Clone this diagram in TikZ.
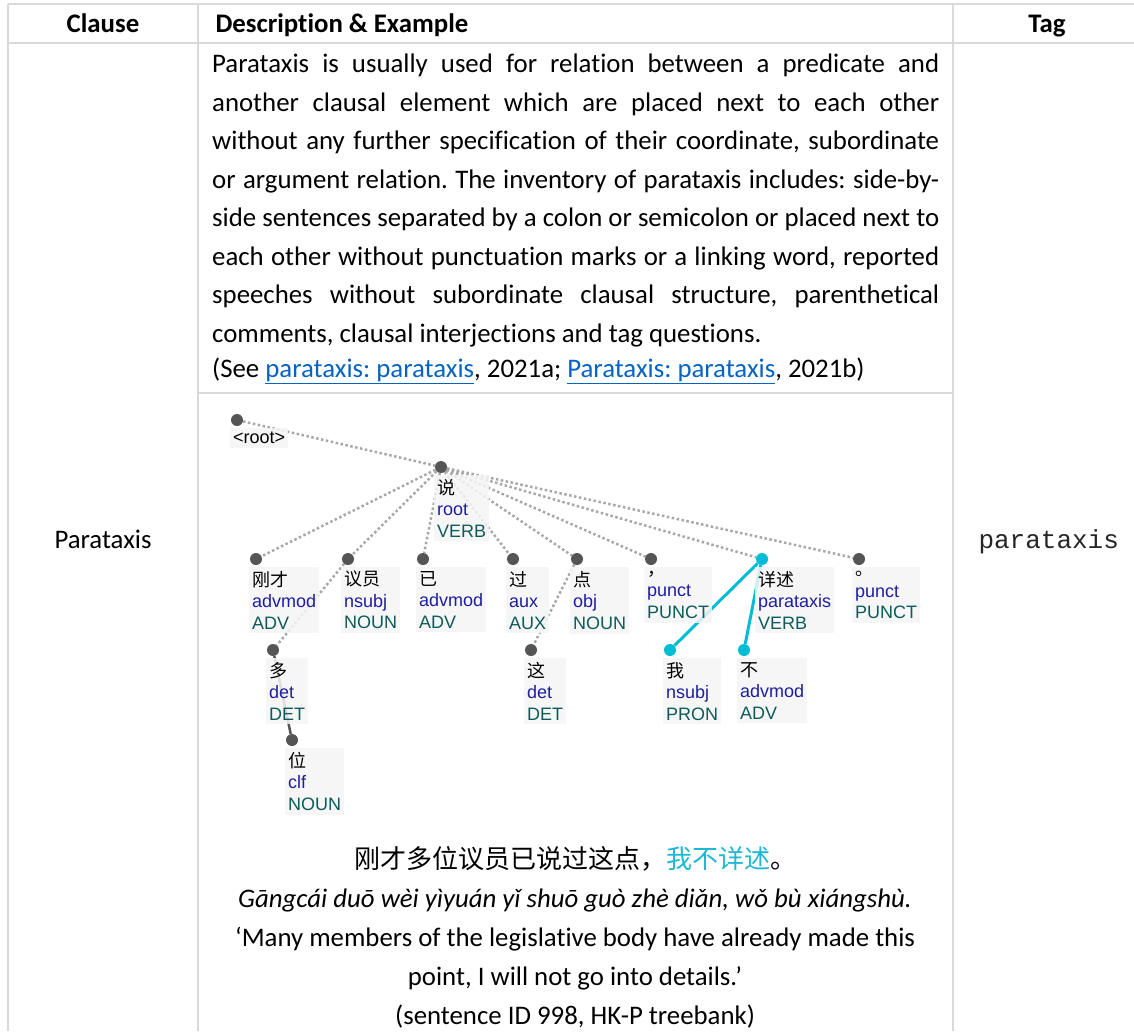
\documentclass[tikz,border=0pt]{standalone}
\usepackage{fontspec}
\setmainfont{Carlito}[Ligatures=NoCommon]
\newfontfamily\arialf{Liberation Sans}
\newfontfamily\courf{Liberation Mono}
\newfontfamily\cjk{Noto Sans CJK SC}
\usetikzlibrary{backgrounds}
\definecolor{rulegray}{HTML}{D9D9D9}
\definecolor{dotgray}{HTML}{555555}
\definecolor{edgegray}{HTML}{A8A8A8}
\definecolor{udcyan}{HTML}{00BCD4}
\definecolor{cyantext}{HTML}{1CB8D4}
\definecolor{reltext}{HTML}{1E1EA0}
\definecolor{postext}{HTML}{0F5A5A}
\definecolor{linkblue}{HTML}{0563C1}
\definecolor{boxfill}{HTML}{F5F5F5}
\frenchspacing

\begin{document}
\begin{tikzpicture}[x=1pt,y=-1pt,
  every node/.style={font=\fontsize{26.8}{38.5}\selectfont},
  head/.style={font=\bfseries\fontsize{26.8}{30}\selectfont},
  rule/.style={rulegray, line width=2.5pt},
  tok/.style={circle, fill=dotgray, inner sep=0pt, minimum size=12pt},
  ctok/.style={tok, fill=udcyan},
  lbl/.style={fill=boxfill, fill opacity=.85, text opacity=1, anchor=north west,
    inner xsep=3pt, inner ysep=4pt, align=left, font=\arialf\fontsize{18}{21.5}\selectfont},
  dep/.style={edgegray, line width=2.5pt, dash pattern=on 2.5pt off 2.5pt},
  sdep/.style={dotgray, line width=2.5pt},
  cdep/.style={udcyan, line width=3pt}]
\useasboundingbox (0,0) rectangle (1134,1031);
\draw[rule] (8,4) -- (1134,4) (8,43) -- (1134,43) (198,393) -- (953,393);
\foreach \x in {8,198,953} \draw[rule] (\x,4) -- (\x,1031);

\node[head, anchor=base] (h-clause) at (103,32) {Clause};
\node[head, anchor=base west] (h-desc) at (212,32) {Description \& Example};
\node[head, anchor=base] (h-tag) at (1047,32) {Tag};

\node[anchor=base] (clause) at (103,548) {Parataxis};
\node[font=\courf\fontsize{26}{30}\selectfont, text=black!85, anchor=base west] (tag) at (975,548) {parataxis};

\node[anchor=north west, inner sep=0pt, text width=727pt, align=justify] (desc) at (212,54)
{\tolerance=10000 Parataxis is usually used for relation between a predicate and\linebreak
another clausal element which are placed next to each other\linebreak
without any further specification of their coordinate, subordinate\linebreak
or argument relation. The inventory of parataxis includes: side-by-\linebreak
side sentences separated by a colon or semicolon or placed next to\linebreak
each other without punctuation marks or a linking word, reported\linebreak
speeches without subordinate clausal structure, parenthetical\linebreak
comments, clausal interjections and tag questions.\\[-3pt]
(See \textcolor{linkblue}{\underline{parataxis: parataxis}}, 2021a; \textcolor{linkblue}{\underline{Parataxis: parataxis}}, 2021b)};

\node[lbl] (root-l) at (230,428) {<root>};
\node[tok] (root) at (237,420) {};
\foreach \n/\x/\y/\w/\r/\u/\s in {
  shuo/441/467/说/root/VERB/tok,
  gangcai/256/559/刚才/advmod/ADV/tok,
  yiyuan/348/559/议员/nsubj/NOUN/tok,
  yi/423/559/已/advmod/ADV/tok,
  guo/513/559/过/aux/AUX/tok,
  dian/577/559/点/obj/NOUN/tok,
  douhao/651/559/，/punct/PUNCT/tok,
  xiangshu/762/559/详述/parataxis/VERB/ctok,
  juhao/859/559/。/punct/PUNCT/tok,
  duo/273/650/多/det/DET/tok,
  zhe/531/650/这/det/DET/tok,
  wo/670/650/我/nsubj/PRON/ctok,
  bu/744/650/不/advmod/ADV/ctok,
  wei/292/740/位/clf/NOUN/tok}{
  \node[lbl] (\n-l) at ([shift={(-7,8)}]\x,\y) {{\cjk\w}\\{\color{reltext}\r}\\{\color{postext}\u}};
  \node[\s] (\n) at (\x,\y) {};
}
\begin{pgfonlayer}{background}
\foreach \a/\b in {root/shuo, shuo/gangcai, shuo/yiyuan, shuo/yi, shuo/guo, shuo/dian,
  shuo/douhao, shuo/xiangshu, shuo/juhao, yiyuan/duo, dian/zhe}
  \draw[dep] (\a) -- (\b);
\draw[sdep] (duo) -- (wei);
\draw[cdep] (xiangshu) -- (wo) (xiangshu) -- (bu);
\end{pgfonlayer}

\node[anchor=north, align=center, font=\fontsize{26.8}{39}\selectfont] (example) at (575,843)
{{\cjk\fontsize{26}{39}\selectfont 刚才多位议员已说过这点，\textcolor{cyantext}{我不详述}。}\\
\textit{Gāngcái duō wèi yìyuán yǐ shuō guò zhè diǎn, wǒ bù xiángshù.}\\
‘Many members of the legislative body have already made this\\
point, I will not go into details.’\\
(sentence ID 998, HK-P treebank)};
\end{tikzpicture}
\end{document}
